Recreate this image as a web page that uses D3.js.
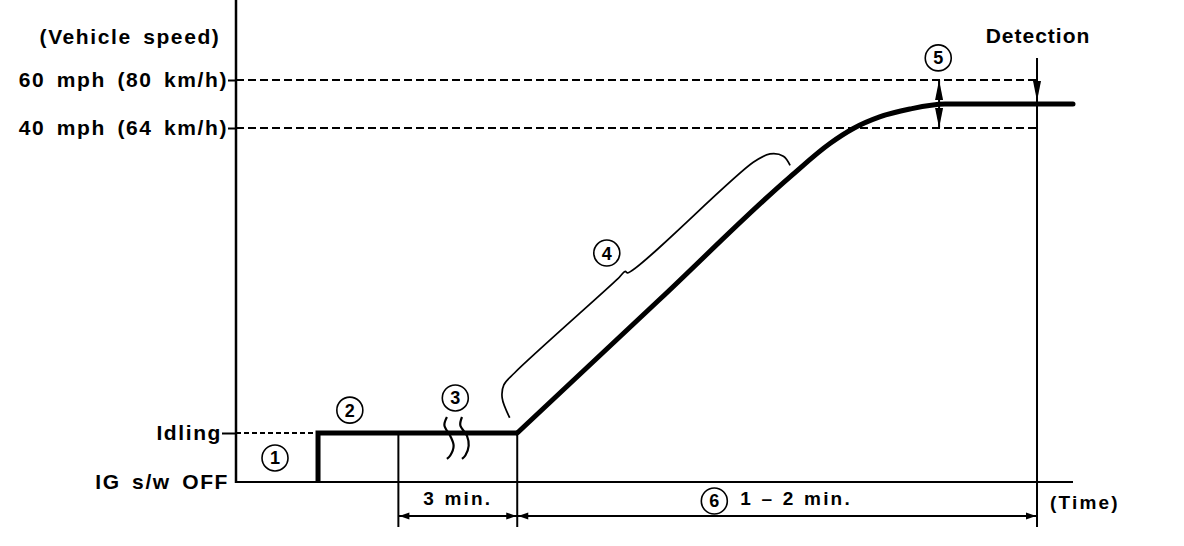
<!DOCTYPE html>
<html>
<head>
<meta charset="utf-8">
<script src="https://cdn.jsdelivr.net/npm/d3@7"></script>
<style>
  body { margin: 0; background: #fff; }
  svg { display: block; background: #fff; }
  .lbl { font-family: "Liberation Sans", Arial, sans-serif; font-weight: bold; font-size: 21px; letter-spacing: 1.6px; word-spacing: 4px; fill: #000; }
  .note { font-family: "Liberation Sans", Arial, sans-serif; font-weight: bold; font-size: 19px; letter-spacing: 2.2px; word-spacing: 1px; fill: #000; }
  .num { font-family: "Liberation Sans", Arial, sans-serif; font-weight: bold; font-size: 18px; fill: #000; }
</style>
</head>
<body>
<svg id="chart"></svg>
<script>
// vertical levels (mph, -10 stands for ignition off)
let levelValues = [-10, 0, 40, 60];
let levelLabels = ['IG s/w OFF', 'Idling', '40 mph (64 km/h)', '60 mph (80 km/h)'];
let axisTitle = '(Vehicle speed)';
let timeTitle = '(Time)';

// speed profile, time in schematic units (0 - 100)
let profileTime  = [9.8, 9.8, 33.6, 50.7, 66.2, 71.0, 73.7, 76.9, 80.5, 84.7, 100];
let profileSpeed = [-10, 0,   0,    17.6, 33.6, 38.0, 39.9, 44.6, 47.9, 50,   50];

// event times
let ignitionTime = 9.8;
let markTimes = [19.4, 33.6];
let detectTime = 95.7;
let detectTop = 69.2;
let toleranceTime = 84.0;

// time spans below the axis
let spanFrom = [19.4, 33.6];
let spanTo = [33.6, 95.7];
let spanLabels = ['3 min.', '1 \u2013 2 min.'];
let spanNums = ['', '6'];

// circled step numbers
let calloutNums = ['1', '2', '3', '4', '5'];
let calloutTime = [4.66, 13.6, 26.2, 44.3, 83.9];
let calloutSpeed = [-5.1, 3.0, 4.6, 23.6, 69.2];

// bracket beside the acceleration ramp (step 4)
let bracketTime = [32.7, 31.8, 32.0, 33.3, 45.6, 46.5, 46.8, 61.8, 63.8, 65.4, 66.2];
let bracketSpeed = [2.0, 4.6, 6.3, 7.9, 20.2, 21.2, 21.0, 35.5, 36.6, 36.3, 35.1];

// break marks on the idling line (step 3)
let breakTimeA = [25.2, 24.9, 25.6, 26.0, 25.6, 25.2];
let breakTimeB = [27.0, 26.8, 27.6, 27.8, 27.4, 27.0];
let breakSpeed = [2.1, 1.0, -0.6, -2.6, -4.6, -5.3];

let config = { svg: { width: 1184, height: 546 } };

let svg = d3.select('svg#chart')
  .attr('width', config.svg.width)
  .attr('height', config.svg.height);

let scale = {};
scale.x = d3.scaleLinear().domain([0, 100]).range([236, 1073]);
scale.y = d3.scaleLinear().domain(levelValues).range([482, 433, 128, 80]);

let x0 = scale.x(0);
let yOff = scale.y(-10);

let line = d3.line()
  .x(d => scale.x(d.t))
  .y(d => scale.y(d.v));

// dashed reference lines
[60, 40].forEach(function(v) {
  svg.append('line')
    .attr('x1', x0).attr('x2', scale.x(detectTime))
    .attr('y1', scale.y(v)).attr('y2', scale.y(v))
    .attr('stroke', '#000').attr('stroke-width', 2)
    .attr('stroke-dasharray', '8,4');
});
svg.append('line')
  .attr('x1', x0).attr('x2', scale.x(ignitionTime))
  .attr('y1', scale.y(0)).attr('y2', scale.y(0))
  .attr('stroke', '#000').attr('stroke-width', 2)
  .attr('stroke-dasharray', '5,3');

// baseline (ignition off)
svg.append('line')
  .attr('x1', x0).attr('x2', scale.x(100))
  .attr('y1', yOff).attr('y2', yOff)
  .attr('stroke', '#000').attr('stroke-width', 2);

// y axis
let axisY = d3.axisLeft(scale.y)
  .tickValues(levelValues)
  .tickFormat((d, i) => levelLabels[i])
  .tickSize(8)
  .tickSizeOuter(0);

let gy = svg.append('g')
  .attr('transform', translate(x0, 0))
  .call(axisY);
gy.select('.domain').remove();
gy.selectAll('.tick line')
  .attr('stroke-width', 2)
  .attr('x2', d => d === 0 ? -14 : (d < 0 ? 0 : -8));
gy.selectAll('.tick text')
  .attr('class', 'lbl')
  .attr('x', d => d === 0 ? -14 : (d < 0 ? -7 : -8));

svg.append('line')
  .attr('x1', x0).attr('x2', x0)
  .attr('y1', 0).attr('y2', yOff + 1)
  .attr('stroke', '#000').attr('stroke-width', 2.5);

svg.append('text')
  .attr('class', 'lbl')
  .attr('x', 130).attr('y', 44)
  .attr('text-anchor', 'middle')
  .text(axisTitle);

// vertical time marks
markTimes.forEach(function(t) {
  svg.append('line')
    .attr('x1', scale.x(t)).attr('x2', scale.x(t))
    .attr('y1', scale.y(0)).attr('y2', yOff + 45)
    .attr('stroke', '#000').attr('stroke-width', 2);
});
svg.append('line')
  .attr('x1', scale.x(detectTime)).attr('x2', scale.x(detectTime))
  .attr('y1', scale.y(detectTop)).attr('y2', yOff + 45)
  .attr('stroke', '#000').attr('stroke-width', 2);

// speed profile
let profile = profileTime.map((t, i) => ({ t: t, v: profileSpeed[i] }));

svg.append('path')
  .datum(profile.slice(0, 3))
  .attr('d', line)
  .attr('fill', 'none').attr('stroke', '#000')
  .attr('stroke-width', 5).attr('stroke-linejoin', 'miter');

svg.append('path')
  .datum(profile.slice(2))
  .attr('d', line.curve(d3.curveMonotoneX))
  .attr('fill', 'none').attr('stroke', '#000')
  .attr('stroke-width', 5).attr('stroke-linecap', 'round');
line.curve(d3.curveLinear);

// bracket for step 4
let thin = d3.line()
  .x(d => scale.x(d.t))
  .y(d => scale.y(d.v))
  .curve(d3.curveCatmullRom.alpha(0.5));

svg.append('path')
  .datum(bracketTime.map((t, i) => ({ t: t, v: bracketSpeed[i] })))
  .attr('d', thin)
  .attr('fill', 'none').attr('stroke', '#000').attr('stroke-width', 1.7);

// break marks for step 3
[breakTimeA, breakTimeB].forEach(function(times) {
  svg.append('path')
    .datum(times.map((t, i) => ({ t: t, v: breakSpeed[i] })))
    .attr('d', thin)
    .attr('fill', 'none').attr('stroke', '#000').attr('stroke-width', 2.2);
});

// arrows
function arrowHead(x, y, angle, len, hw) {
  let a = angle * Math.PI / 180;
  let ux = Math.cos(a), uy = Math.sin(a);
  let bx = x - ux * len, by = y - uy * len;
  let pts = [[x, y], [bx - uy * hw, by + ux * hw], [bx + uy * hw, by - ux * hw]];
  svg.append('polygon')
    .attr('points', pts.map(p => p.join(',')).join(' '))
    .attr('fill', '#000');
}

// tolerance arrows (step 5)
let tx = scale.x(toleranceTime);
svg.append('line')
  .attr('x1', tx).attr('x2', tx)
  .attr('y1', scale.y(60)).attr('y2', scale.y(40))
  .attr('stroke', '#000').attr('stroke-width', 2);
arrowHead(tx, scale.y(60), -90, 20, 4);
arrowHead(tx, scale.y(40), 90, 20, 4);

// detection arrow
arrowHead(scale.x(detectTime), scale.y(50) - 3, 90, 20, 4);
svg.append('text')
  .attr('class', 'lbl')
  .attr('x', scale.x(detectTime) + 1)
  .attr('y', scale.y(detectTop) - 15)
  .attr('text-anchor', 'middle')
  .style('letter-spacing', '1px')
  .text('Detection');

// time spans
let dimY = yOff + 34;
spanFrom.forEach(function(t0, i) {
  let xa = scale.x(t0), xb = scale.x(spanTo[i]);
  svg.append('line')
    .attr('x1', xa).attr('x2', xb)
    .attr('y1', dimY).attr('y2', dimY)
    .attr('stroke', '#000').attr('stroke-width', 2);
  arrowHead(xa + 1, dimY, 180, 10, 3.5);
  arrowHead(xb - 1, dimY, 0, 10, 3.5);

  let g = svg.append('g');
  let txt = g.append('text')
    .attr('class', 'note')
    .attr('y', yOff + 23)
    .text(spanLabels[i]);
  let w = txt.node().getComputedTextLength();
  let extra = spanNums[i] ? 38 : 0;
  let left = (xa + xb) / 2 - (w + extra) / 2;
  txt.attr('x', left + extra);
  if (spanNums[i]) {
    circledNumber(left + 12, yOff + 19, spanNums[i]);
  }
});

svg.append('text')
  .attr('class', 'note')
  .attr('x', scale.x(detectTime) + 13)
  .attr('y', yOff + 27)
  .text(timeTitle);

// circled step numbers
function circledNumber(cx, cy, label) {
  svg.append('circle')
    .attr('cx', cx).attr('cy', cy).attr('r', 13)
    .attr('fill', '#fff').attr('stroke', '#000').attr('stroke-width', 1.6);
  svg.append('text')
    .attr('class', 'num')
    .attr('x', cx).attr('y', cy)
    .attr('text-anchor', 'middle')
    .attr('dy', '0.36em')
    .text(label);
}

calloutNums.forEach(function(n, i) {
  circledNumber(scale.x(calloutTime[i]), scale.y(calloutSpeed[i]), n);
});

function translate(x, y) {
  return 'translate(' + x + ',' + y + ')';
}
</script>
</body>
</html>
